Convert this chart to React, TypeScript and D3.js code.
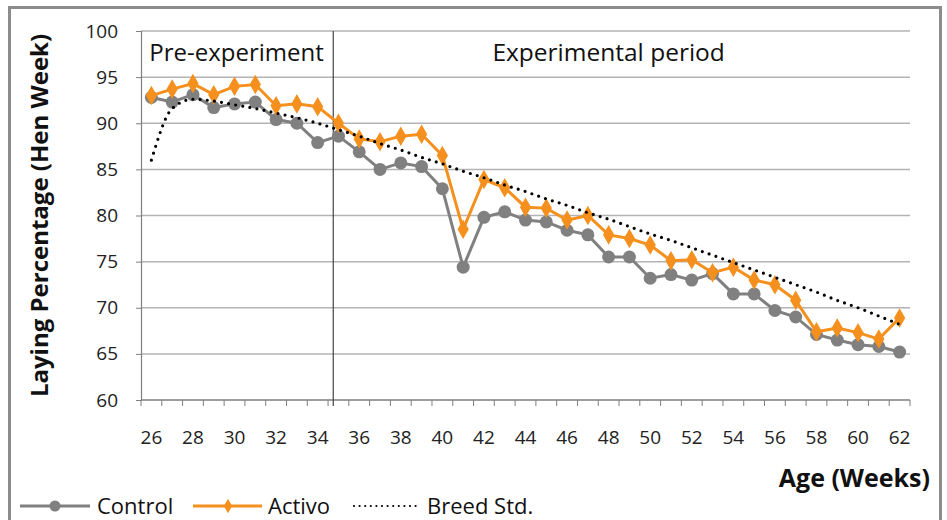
import React, { useRef, useEffect } from 'react';
import * as d3 from 'd3';

// weeks of age (categories)
const weeks = [26, 27, 28, 29, 30, 31, 32, 33, 34, 35, 36, 37, 38, 39, 40, 41, 42, 43, 44,
  45, 46, 47, 48, 49, 50, 51, 52, 53, 54, 55, 56, 57, 58, 59, 60, 61, 62];

const control = [92.8, 92.3, 93.1, 91.7, 92.1, 92.3, 90.4, 90.0, 87.9, 88.6, 86.9, 85.0, 85.7,
  85.3, 82.9, 74.4, 79.8, 80.4, 79.5, 79.3, 78.4, 77.9, 75.5, 75.5, 73.2, 73.6, 73.0, 73.7,
  71.5, 71.5, 69.7, 69.0, 67.1, 66.5, 66.0, 65.8, 65.2];

const activo = [93.0, 93.7, 94.3, 93.1, 94.0, 94.2, 91.9, 92.1, 91.8, 90.0, 88.3, 88.0, 88.6,
  88.8, 86.5, 78.5, 83.9, 83.0, 80.9, 80.8, 79.5, 80.0, 77.9, 77.5, 76.8, 75.1, 75.2, 73.8,
  74.4, 73.0, 72.5, 70.8, 67.4, 67.8, 67.3, 66.6, 68.9];

const breedStd = [86.0, 91.6, 92.6, 92.4, 92.0, 91.6, 91.1, 90.6, 90.0, 89.3, 88.6, 87.8, 87.1,
  86.3, 85.6, 84.8, 84.1, 83.3, 82.6, 81.8, 81.1, 80.3, 79.6, 78.8, 78.0, 77.3, 76.5, 75.7,
  74.9, 74.1, 73.3, 72.5, 71.7, 70.8, 70.0, 69.1, 68.2];

const yTicks = [60, 65, 70, 75, 80, 85, 90, 95, 100];
const xLabelWeeks = [26, 28, 30, 32, 34, 36, 38, 40, 42, 44, 46, 48, 50, 52, 54, 56, 58, 60, 62];
const dividerWeek = 34.75; // end of pre-experiment

const GREY = '#808080';
const ORANGE = '#F5901E';
const FONT = '"Open Sans", sans-serif';

const App = () => {
  const svgRef = useRef<SVGSVGElement>(null);

  useEffect(() => {
    const w = 947;
    const h = 520;
    const left = 141, right = 910, top = 31, bottom = 400;

    const svg = d3.select(svgRef.current).attr('width', w).attr('height', h);
    svg.selectAll('*').remove();

    svg.append('rect').attr('width', w).attr('height', h).attr('fill', 'white');
    // outer frame
    svg.append('rect')
      .attr('x', 9.5).attr('y', 7.5).attr('width', 931).attr('height', 530)
      .attr('fill', 'none').attr('stroke', '#8c8c8c').attr('stroke-width', 3);

    const x = d3.scaleLinear().domain([weeks[0] - 0.5, weeks[weeks.length - 1] + 0.5]).range([left, right]);
    const y = d3.scaleLinear().domain([60, 100]).range([bottom, top]);

    // grid lines
    svg.append('g').selectAll('line').data(yTicks.filter(t => t > 60)).join('line')
      .attr('x1', left).attr('x2', right)
      .attr('y1', d => y(d)).attr('y2', d => y(d))
      .attr('stroke', '#b3b3b3').attr('stroke-width', 1.5);

    // y axis
    const yAxis = d3.axisLeft(y).tickValues(yTicks).tickSize(5).tickPadding(18);
    const gy = svg.append('g').attr('transform', `translate(${left},0)`).call(yAxis);
    gy.select('.domain').attr('stroke', '#7f7f7f').attr('stroke-width', 1.2);
    gy.selectAll('.tick line').attr('stroke', '#7f7f7f');
    gy.selectAll('.tick text').attr('font-family', FONT).attr('font-size', 19).attr('fill', '#222');

    // x axis: ticks between categories, labels at even weeks
    const boundaries = weeks.map(d => d - 0.5).concat([weeks[weeks.length - 1] + 0.5]);
    const gx = svg.append('g');
    gx.append('line').attr('x1', left).attr('x2', right).attr('y1', bottom).attr('y2', bottom)
      .attr('stroke', '#7f7f7f').attr('stroke-width', 1.5);
    gx.selectAll('line.tk').data(boundaries).join('line').attr('class', 'tk')
      .attr('x1', d => x(d)).attr('x2', d => x(d)).attr('y1', bottom).attr('y2', bottom + 6)
      .attr('stroke', '#7f7f7f');
    gx.selectAll('text').data(xLabelWeeks).join('text')
      .attr('x', d => x(d)).attr('y', bottom + 44)
      .attr('text-anchor', 'middle')
      .attr('font-family', FONT).attr('font-size', 19).attr('fill', '#222')
      .text(d => d);

    // divider
    svg.append('line')
      .attr('x1', x(dividerWeek)).attr('x2', x(dividerWeek))
      .attr('y1', top).attr('y2', bottom + 6)
      .attr('stroke', '#444').attr('stroke-width', 1.2);

    svg.append('text').attr('x', x(30.1)).attr('y', 61).attr('text-anchor', 'middle')
      .attr('font-family', FONT).attr('font-size', 24).attr('fill', '#111').text('Pre-experiment');
    svg.append('text').attr('x', x(48)).attr('y', 61).attr('text-anchor', 'middle')
      .attr('font-family', FONT).attr('font-size', 24.5).attr('fill', '#111').text('Experimental period');

    // axis titles
    svg.append('text')
      .attr('transform', `translate(48,${(top + bottom) / 2}) rotate(-90)`)
      .attr('text-anchor', 'middle')
      .attr('font-family', FONT).attr('font-weight', 'bold').attr('font-size', 24).attr('fill', '#111')
      .text('Laying Percentage (Hen Week)');
    svg.append('text').attr('x', 930).attr('y', 487).attr('text-anchor', 'end')
      .attr('font-family', FONT).attr('font-weight', 'bold').attr('font-size', 25).attr('fill', '#111')
      .text('Age (Weeks)');

    const line = d3.line<number>().x((d, i) => x(weeks[i])).y(d => y(d));
    const diamond = d3.symbol().type(d3.symbolDiamond).size(110);

    // control
    svg.append('path').datum(control).attr('d', line)
      .attr('fill', 'none').attr('stroke', GREY).attr('stroke-width', 3);
    svg.append('g').selectAll('circle').data(control).join('circle')
      .attr('cx', (d, i) => x(weeks[i])).attr('cy', d => y(d)).attr('r', 6.5).attr('fill', GREY);

    // activo
    svg.append('path').datum(activo).attr('d', line)
      .attr('fill', 'none').attr('stroke', ORANGE).attr('stroke-width', 3);
    svg.append('g').selectAll('path').data(activo).join('path')
      .attr('d', diamond)
      .attr('transform', (d, i) => `translate(${x(weeks[i])},${y(d)})`)
      .attr('fill', ORANGE);

    // breed standard
    const smooth = d3.line<number>().x((d, i) => x(weeks[i])).y(d => y(d)).curve(d3.curveMonotoneX);
    svg.append('path').datum(breedStd).attr('d', smooth)
      .attr('fill', 'none').attr('stroke', '#000').attr('stroke-width', 3.2)
      .attr('stroke-linecap', 'round').attr('stroke-dasharray', '0 7.2');

    // legend
    const ly = 506;
    const fs = 22;
    const lg = svg.append('g');
    lg.append('line').attr('x1', 20).attr('x2', 90).attr('y1', ly).attr('y2', ly).attr('stroke', GREY).attr('stroke-width', 3);
    lg.append('circle').attr('cx', 55).attr('cy', ly).attr('r', 5.5).attr('fill', GREY);
    lg.append('text').attr('x', 97).attr('y', ly + 8).attr('font-family', FONT).attr('font-size', fs).attr('fill', '#111').text('Control');
    lg.append('line').attr('x1', 193).attr('x2', 262).attr('y1', ly).attr('y2', ly).attr('stroke', ORANGE).attr('stroke-width', 3);
    lg.append('path').attr('d', d3.symbol().type(d3.symbolDiamond).size(60)).attr('transform', `translate(228,${ly})`).attr('fill', ORANGE);
    lg.append('text').attr('x', 268).attr('y', ly + 8).attr('font-family', FONT).attr('font-size', fs).attr('fill', '#111').text('Activo');
    lg.append('line').attr('x1', 354).attr('x2', 420).attr('y1', ly).attr('y2', ly).attr('stroke', '#000').attr('stroke-width', 2.2)
      .attr('stroke-linecap', 'round').attr('stroke-dasharray', '0 5.6');
    lg.append('text').attr('x', 427).attr('y', ly + 8).attr('font-family', FONT).attr('font-size', fs).attr('fill', '#111').text('Breed Std.');
  }, []);

  return (
    <div>
      <svg ref={svgRef} style={{ position: 'absolute', left: 0, top: 0 }}></svg>
    </div>
  );
};

export default App;
